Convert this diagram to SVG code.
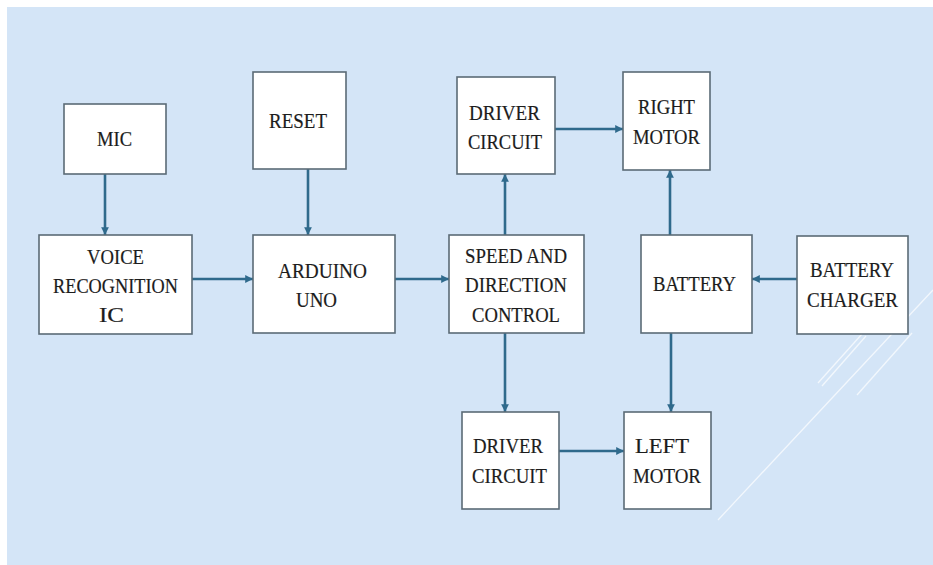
<svg xmlns="http://www.w3.org/2000/svg" width="933" height="565" viewBox="0 0 933 565">
<style>
.box{fill:#ffffff;stroke:#5b6b76;stroke-width:1.6}
.lbl{font-family:"Liberation Serif","Times New Roman",serif;font-size:22px;fill:#1c1c1c;stroke:#1c1c1c;stroke-width:0.2;text-anchor:middle}
.conn{stroke:#2f6a8c;stroke-width:2.6;fill:none;marker-end:url(#ah)}
.deco{stroke:#ffffff;stroke-opacity:0.7;stroke-width:1.3;fill:none}
</style>
<defs>
<marker id="ah" viewBox="0 0 10 10" refX="10" refY="5" markerWidth="3" markerHeight="3" orient="auto" markerUnits="strokeWidth">
<path d="M0,0 L10,5 L0,10 z" fill="#2f6a8c"/>
</marker>
</defs>
<rect x="0" y="0" width="933" height="565" fill="#ffffff"/>
<rect x="7" y="7" width="926" height="558" fill="#d4e5f7"/>
<g id="decor">
<line class="deco" x1="718" y1="520" x2="933" y2="290"/>
<line class="deco" x1="818" y1="383" x2="862" y2="334"/>
<line class="deco" x1="822" y1="386" x2="866" y2="336"/>
<line class="deco" x1="857" y1="395" x2="912" y2="333"/>
</g>
<g id="connectors">
<line class="conn" x1="105" y1="174" x2="105" y2="235"/>
<line class="conn" x1="308" y1="169" x2="308" y2="235"/>
<line class="conn" x1="192" y1="279" x2="253" y2="279"/>
<line class="conn" x1="395" y1="279" x2="449" y2="279"/>
<line class="conn" x1="505" y1="235" x2="505" y2="174"/>
<line class="conn" x1="555" y1="129" x2="623" y2="129"/>
<line class="conn" x1="670" y1="235" x2="670" y2="170"/>
<line class="conn" x1="797" y1="279" x2="752" y2="279"/>
<line class="conn" x1="505" y1="333" x2="505" y2="412"/>
<line class="conn" x1="671" y1="333" x2="671" y2="412"/>
<line class="conn" x1="559" y1="451" x2="624" y2="451"/>
</g>
<g id="mic">
<rect class="box" x="64" y="104" width="102" height="70"/>
<text class="lbl" x="114.5" y="146" textLength="35" lengthAdjust="spacingAndGlyphs">MIC</text>
</g>
<g id="voice">
<rect class="box" x="39" y="235" width="153" height="99"/>
<text class="lbl" x="115.5" y="264" textLength="57" lengthAdjust="spacingAndGlyphs">VOICE</text>
<text class="lbl" x="115.5" y="293" textLength="125" lengthAdjust="spacingAndGlyphs">RECOGNITION</text>
<text class="lbl" x="111.5" y="322" textLength="25" lengthAdjust="spacingAndGlyphs">IC</text>
</g>
<g id="reset">
<rect class="box" x="253" y="72" width="93" height="97"/>
<text class="lbl" x="298" y="128" textLength="58" lengthAdjust="spacingAndGlyphs">RESET</text>
</g>
<g id="arduino">
<rect class="box" x="253" y="235" width="142" height="98"/>
<text class="lbl" x="322.5" y="278" textLength="89" lengthAdjust="spacingAndGlyphs">ARDUINO</text>
<text class="lbl" x="316.5" y="307" textLength="41" lengthAdjust="spacingAndGlyphs">UNO</text>
</g>
<g id="speed">
<rect class="box" x="449" y="235" width="135" height="98"/>
<text class="lbl" x="516" y="263" textLength="102" lengthAdjust="spacingAndGlyphs">SPEED AND</text>
<text class="lbl" x="516" y="292" textLength="102" lengthAdjust="spacingAndGlyphs">DIRECTION</text>
<text class="lbl" x="516" y="322" textLength="88" lengthAdjust="spacingAndGlyphs">CONTROL</text>
</g>
<g id="driver-top">
<rect class="box" x="457" y="77" width="98" height="97"/>
<text class="lbl" x="504.5" y="120" textLength="71" lengthAdjust="spacingAndGlyphs">DRIVER</text>
<text class="lbl" x="505" y="149" textLength="74" lengthAdjust="spacingAndGlyphs">CIRCUIT</text>
</g>
<g id="right-motor">
<rect class="box" x="623" y="72" width="87" height="98"/>
<text class="lbl" x="666.5" y="114" textLength="57" lengthAdjust="spacingAndGlyphs">RIGHT</text>
<text class="lbl" x="666.5" y="144" textLength="67" lengthAdjust="spacingAndGlyphs">MOTOR</text>
</g>
<g id="battery">
<rect class="box" x="641" y="235" width="111" height="98"/>
<text class="lbl" x="694.5" y="291" textLength="83" lengthAdjust="spacingAndGlyphs">BATTERY</text>
</g>
<g id="charger">
<rect class="box" x="797" y="236" width="111" height="98"/>
<text class="lbl" x="852" y="277" textLength="84" lengthAdjust="spacingAndGlyphs">BATTERY</text>
<text class="lbl" x="852.5" y="307" textLength="91" lengthAdjust="spacingAndGlyphs">CHARGER</text>
</g>
<g id="driver-bottom">
<rect class="box" x="462" y="412" width="97" height="97"/>
<text class="lbl" x="508" y="453" textLength="70" lengthAdjust="spacingAndGlyphs">DRIVER</text>
<text class="lbl" x="509.5" y="483" textLength="75" lengthAdjust="spacingAndGlyphs">CIRCUIT</text>
</g>
<g id="left-motor">
<rect class="box" x="624" y="412" width="87" height="97"/>
<text class="lbl" x="662" y="453" textLength="54" lengthAdjust="spacingAndGlyphs">LEFT</text>
<text class="lbl" x="667" y="483" textLength="68" lengthAdjust="spacingAndGlyphs">MOTOR</text>
</g>
</svg>
